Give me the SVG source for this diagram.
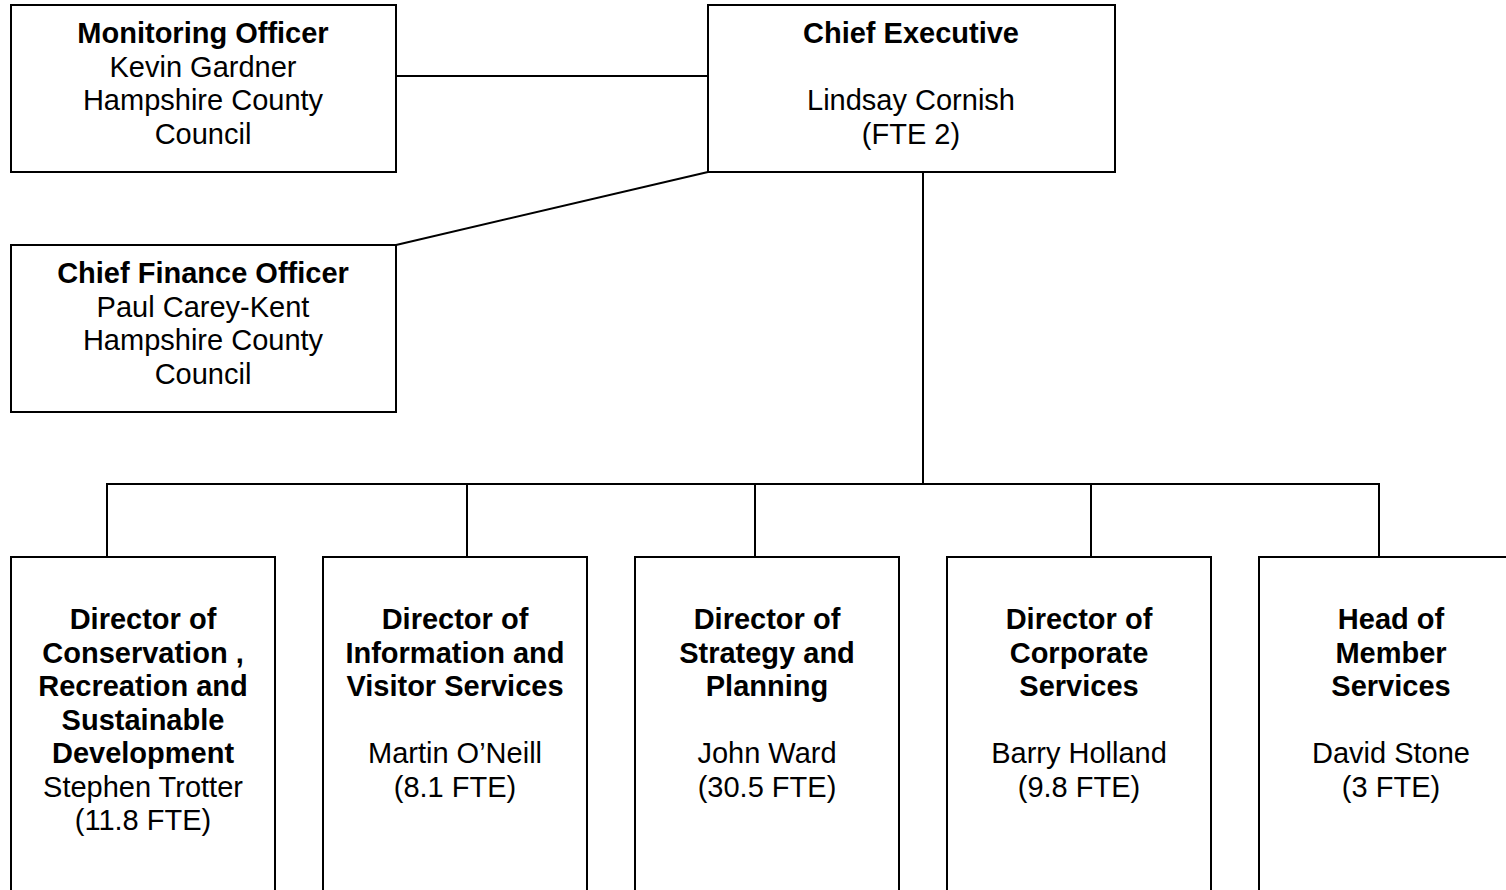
<svg xmlns="http://www.w3.org/2000/svg" width="1506" height="890" viewBox="0 0 1506 890">
<style>
.box{fill:#fff;stroke:#000;stroke-width:2}
.ln{fill:none;stroke:#000;stroke-width:2}
text{font-family:"Liberation Sans",Arial,sans-serif;font-size:29px;fill:#000;text-anchor:middle}
.b{font-weight:bold}
</style>
<rect width="1506" height="890" fill="#fff"/>
<g id="connectors">
<line class="ln" x1="396" y1="76" x2="708" y2="76"/>
<line class="ln" x1="396" y1="245" x2="708" y2="172"/>
<line class="ln" x1="923" y1="172" x2="923" y2="484"/>
<line class="ln" x1="106" y1="484" x2="1380" y2="484"/>
<line class="ln" x1="107" y1="484" x2="107" y2="557"/>
<line class="ln" x1="467" y1="484" x2="467" y2="557"/>
<line class="ln" x1="755" y1="484" x2="755" y2="557"/>
<line class="ln" x1="1091" y1="484" x2="1091" y2="557"/>
<line class="ln" x1="1379" y1="484" x2="1379" y2="557"/>
</g>
<g id="monitoring-officer">
<rect class="box" x="11" y="5" width="385" height="167"/>
<text x="203" y="43" class="b">Monitoring Officer</text>
<text x="203" y="76.5">Kevin Gardner</text>
<text x="203" y="110">Hampshire County</text>
<text x="203" y="143.5">Council</text>
</g>
<g id="chief-executive">
<rect class="box" x="708" y="5" width="407" height="167"/>
<text x="911" y="43" class="b">Chief Executive</text>
<text x="911" y="110">Lindsay Cornish</text>
<text x="911" y="143.5">(FTE 2)</text>
</g>
<g id="chief-finance-officer">
<rect class="box" x="11" y="245" width="385" height="167"/>
<text x="203" y="283" class="b">Chief Finance Officer</text>
<text x="203" y="316.5">Paul Carey-Kent</text>
<text x="203" y="350">Hampshire County</text>
<text x="203" y="383.5">Council</text>
</g>
<g id="dir-conservation">
<rect class="box" x="11" y="557" width="264" height="345"/>
<text x="143" y="629" class="b">Director of</text>
<text x="143" y="662.5" class="b">Conservation ,</text>
<text x="143" y="696" class="b">Recreation and</text>
<text x="143" y="729.5" class="b">Sustainable</text>
<text x="143" y="763" class="b">Development</text>
<text x="143" y="796.5">Stephen Trotter</text>
<text x="143" y="830">(11.8 FTE)</text>
</g>
<g id="dir-information">
<rect class="box" x="323" y="557" width="264" height="345"/>
<text x="455" y="629" class="b">Director of</text>
<text x="455" y="662.5" class="b">Information and</text>
<text x="455" y="696" class="b">Visitor Services</text>
<text x="455" y="763">Martin O’Neill</text>
<text x="455" y="796.5">(8.1 FTE)</text>
</g>
<g id="dir-strategy">
<rect class="box" x="635" y="557" width="264" height="345"/>
<text x="767" y="629" class="b">Director of</text>
<text x="767" y="662.5" class="b">Strategy and</text>
<text x="767" y="696" class="b">Planning</text>
<text x="767" y="763">John Ward</text>
<text x="767" y="796.5">(30.5 FTE)</text>
</g>
<g id="dir-corporate">
<rect class="box" x="947" y="557" width="264" height="345"/>
<text x="1079" y="629" class="b">Director of</text>
<text x="1079" y="662.5" class="b">Corporate</text>
<text x="1079" y="696" class="b">Services</text>
<text x="1079" y="763">Barry Holland</text>
<text x="1079" y="796.5">(9.8 FTE)</text>
</g>
<g id="head-member">
<rect class="box" x="1259" y="557" width="264" height="345"/>
<text x="1391" y="629" class="b">Head of</text>
<text x="1391" y="662.5" class="b">Member</text>
<text x="1391" y="696" class="b">Services</text>
<text x="1391" y="763">David Stone</text>
<text x="1391" y="796.5">(3 FTE)</text>
</g>
</svg>
